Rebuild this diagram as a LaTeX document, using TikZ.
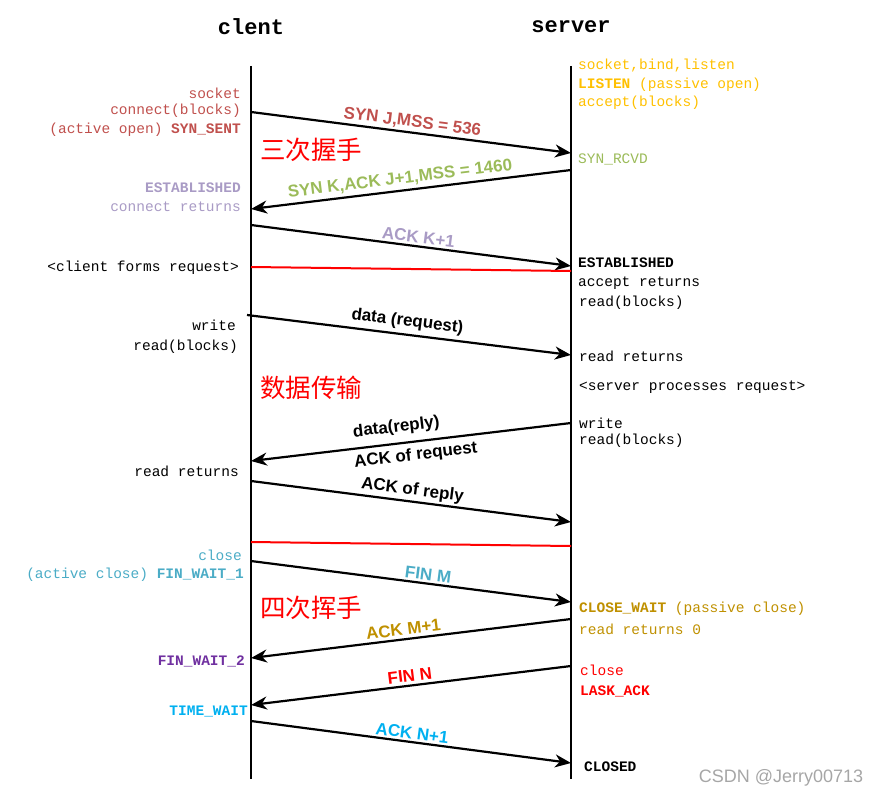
\documentclass[tikz,border=0pt]{standalone}
\usepackage{fontspec}
\setmainfont{Liberation Mono}
\newfontfamily\labfont{Liberation Sans}
\newfontfamily\cjkfont{Noto Sans CJK SC}
\usetikzlibrary{arrows.meta}
\definecolor{synred}{HTML}{C0504D}
\definecolor{syngreen}{HTML}{9BBB59}
\definecolor{ackpurple}{HTML}{A99BC5}
\definecolor{listenorange}{HTML}{FFC000}
\definecolor{finteal}{HTML}{4BACC6}
\definecolor{waitgold}{HTML}{BF9000}
\definecolor{waitpurple}{HTML}{7030A0}
\definecolor{timeblue}{HTML}{00B0F0}
\begin{document}
\begin{tikzpicture}[x=1pt,y=-1pt,
  life/.style={line width=2.6pt},
  msg/.style={line width=2.2pt,-{Stealth[length=16pt,width=13pt,inset=5pt]}},
  sepline/.style={red,line width=2pt},
  hdr/.style={font=\bfseries\fontsize{22}{24}\selectfont},
  txt/.style={font=\fontsize{14.5}{16}\selectfont,inner sep=0pt},
  ltxt/.style={txt,anchor=east},
  rtxt/.style={txt,anchor=west},
  lbl/.style={font=\labfont\bfseries\fontsize{17}{19}\selectfont,inner sep=2pt,sloped},
  phase/.style={font=\cjkfont\fontsize{25.5}{28}\selectfont,red,inner sep=0pt}]
\useasboundingbox (0,0) rectangle (882,797);
\node[hdr] (client) at (251,27) {clent};
\node[hdr] (server) at (571,27) {server};
\coordinate (ctop) at (251,66);
\coordinate (cbot) at (251,779);
\coordinate (stop) at (571,66);
\coordinate (sbot) at (571,779);
\draw[life] (ctop) -- (cbot);
\draw[life] (stop) -- (sbot);
\coordinate (c1) at (251,112);
\coordinate (s1) at (571,153);
\coordinate (s2) at (571,170);
\coordinate (c2) at (251,209);
\coordinate (c3) at (251,225);
\coordinate (s3) at (571,266);
\coordinate (r1a) at (251,267);
\coordinate (r1b) at (571,271);
\coordinate (c4) at (247,315);
\coordinate (s4) at (571,355);
\coordinate (s5) at (571,423);
\coordinate (c5) at (251,461);
\coordinate (c6) at (251,481);
\coordinate (s6) at (571,522);
\coordinate (r2a) at (251,542);
\coordinate (r2b) at (571,546);
\coordinate (c7) at (251,561);
\coordinate (s7) at (571,602);
\coordinate (s8) at (571,619);
\coordinate (c8) at (251,658);
\coordinate (s9) at (571,666);
\coordinate (c9) at (251,705);
\coordinate (c10) at (251,721);
\coordinate (s10) at (571,763);
\draw[msg] (c1) -- node[lbl,above,pos=0.5,synred] (syn) {SYN J,MSS = 536} (s1);
\draw[msg] (s2) -- node[lbl,above=1pt,pos=0.53,syngreen] (synack) {SYN K,ACK J+1,MSS = 1460} (c2);
\draw[msg] (c3) -- node[lbl,above,pos=0.52,ackpurple] (ackk) {ACK K+1} (s3);
\draw[sepline] (r1a) -- (r1b);
\draw[msg] (c4) -- node[lbl,above=2pt,pos=0.49] (datareq) {data (request)} (s4);
\draw[msg] (s5) -- node[lbl,above=5pt,pos=0.54] (datarep) {data(reply)} node[lbl,below=3pt,pos=0.49] (ackreq) {ACK of request} (c5);
\draw[msg] (c6) -- node[lbl,above,pos=0.5] (ackrep) {ACK of reply} (s6);
\draw[sepline] (r2a) -- (r2b);
\draw[msg] (c7) -- node[lbl,above,pos=0.55,finteal] (finm) {FIN M} (s7);
\draw[msg] (s8) -- node[lbl,above=1pt,pos=0.52,waitgold] (ackm) {ACK M+1} (c8);
\draw[msg] (s9) -- node[lbl,above=1pt,pos=0.5,red] (finn) {FIN N} (c9);
\draw[msg] (c10) -- node[lbl,above,pos=0.5,timeblue] (ackn) {ACK N+1} (s10);
\node[phase] (shake) at (311,150) {三次握手};
\node[phase] (trans) at (311,388) {数据传输};
\node[phase] (wave) at (311,608) {四次挥手};
\node[ltxt,synred] (csock) at (241,93) {socket};
\node[ltxt,synred] (cconn) at (241,111) {connect(blocks)};
\node[ltxt,synred] (csent) at (241,130) {(active open) \textbf{SYN\_SENT}};
\node[ltxt,ackpurple] (cest) at (241,188) {\textbf{ESTABLISHED}};
\node[ltxt,ackpurple] (cret) at (241,207) {connect returns};
\node[ltxt] (cform) at (239,268) {<client forms request>};
\node[ltxt] (cwrite) at (236,325) {write};
\node[ltxt] (cread) at (238,347) {read(blocks)};
\node[ltxt] (creadret) at (239,471) {read returns};
\node[ltxt,finteal] (cclose) at (242,555) {close};
\node[ltxt,finteal] (cfin1) at (244,575) {(active close) \textbf{FIN\_WAIT\_1}};
\node[ltxt,waitpurple] (cfin2) at (245,661) {\textbf{FIN\_WAIT\_2}};
\node[ltxt,timeblue] (ctime) at (248,711) {\textbf{TIME\_WAIT}};
\node[rtxt,listenorange] (ssock) at (578,66) {socket,bind,listen};
\node[rtxt,listenorange] (slisten) at (578,85) {\textbf{LISTEN} (passive open)};
\node[rtxt,listenorange] (saccept) at (578,103) {accept(blocks)};
\node[rtxt,syngreen] (srcvd) at (578,159) {SYN\_RCVD};
\node[rtxt] (sest) at (578,263) {\textbf{ESTABLISHED}};
\node[rtxt] (sret) at (578,283) {accept returns};
\node[rtxt] (sread) at (579,303) {read(blocks)};
\node[rtxt] (sreadret) at (579,356) {read returns};
\node[rtxt] (sproc) at (579,387) {<server processes request>};
\node[rtxt] (swrite) at (579,423) {write};
\node[rtxt] (sread2) at (579,441) {read(blocks)};
\node[rtxt,waitgold] (swait) at (579,609) {\textbf{CLOSE\_WAIT} (passive close)};
\node[rtxt,waitgold] (sret0) at (579,629) {read returns 0};
\node[rtxt,red] (sclose) at (580,670) {close};
\node[rtxt,red] (slast) at (580,691) {\textbf{LASK\_ACK}};
\node[rtxt] (sclosed) at (584,767) {\textbf{CLOSED}};
\node[font=\labfont\fontsize{18}{20}\selectfont,gray!70] (mark) at (781,778) {CSDN @Jerry00713};
\end{tikzpicture}
\end{document}
